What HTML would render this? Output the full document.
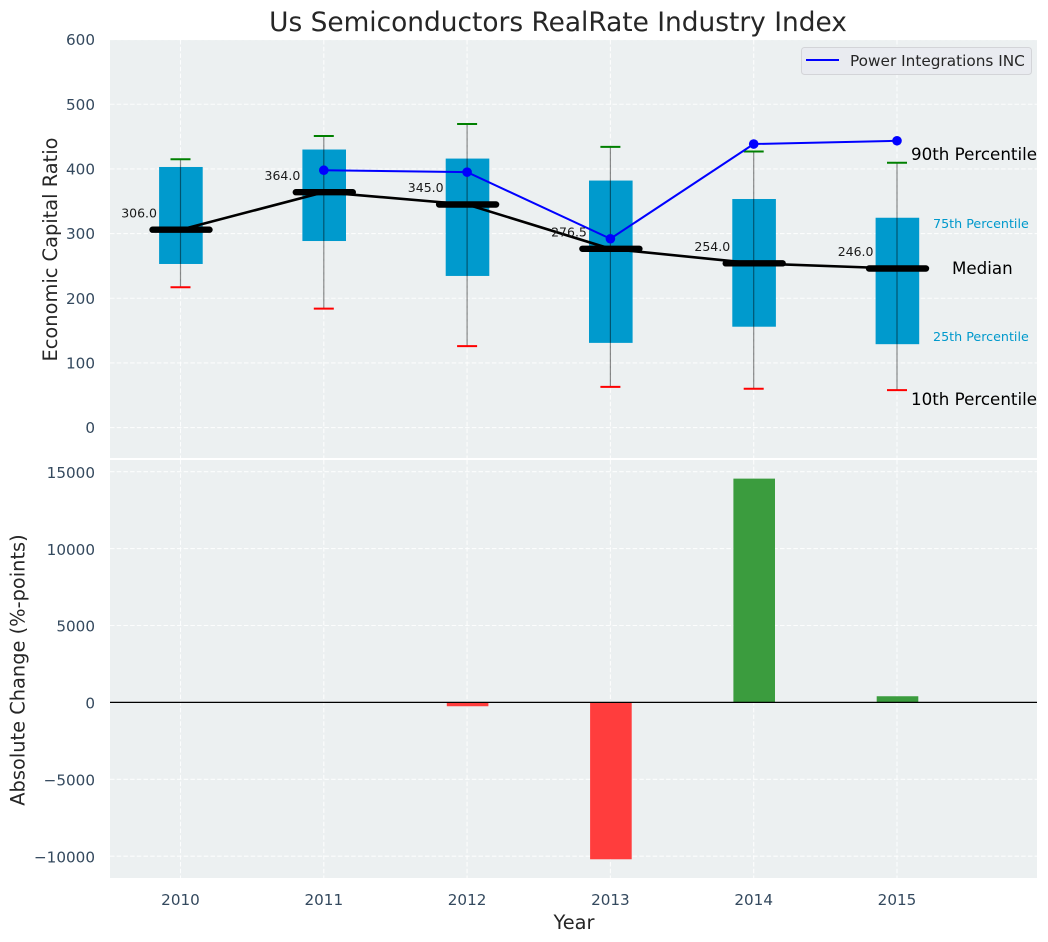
<!DOCTYPE html>
<html lang="en">
<head>
<meta charset="utf-8">
<title>Us Semiconductors RealRate Industry Index</title>
<style>
html,body{margin:0;padding:0;background:#fff;width:1048px;height:942px;overflow:hidden}
svg{display:block;font-family:"DejaVu Sans","Liberation Sans",sans-serif}
</style>
</head>
<body>
<svg id="chart" xmlns="http://www.w3.org/2000/svg" width="1048" height="942" viewBox="0 0 1048 942">
  <rect x="110" y="40" width="927" height="418" fill="#ecf0f1"/>
  <rect x="110" y="460" width="927" height="418" fill="#ecf0f1"/>
  <g id="grid"></g>
  <g id="bars"></g>
  <g id="boxes"></g>
  <g id="lines"></g>
  <g id="ticks" font-size="15.2" fill="#34495e"></g>
  <g id="medianLabels" font-size="12.5" fill="#1a1a1a"></g>

  <text x="558" y="31" text-anchor="middle" font-size="26.4" fill="#262626">Us Semiconductors RealRate Industry Index</text>
  <text transform="translate(57,249.5) rotate(-90)" text-anchor="middle" font-size="19.4" fill="#262626">Economic Capital Ratio</text>
  <text transform="translate(24.5,670) rotate(-90)" text-anchor="middle" font-size="19.4" fill="#262626">Absolute Change (%-points)</text>
  <text x="574" y="929" text-anchor="middle" font-size="19.4" fill="#262626">Year</text>

  <text x="911" y="160" font-size="16.7" fill="#000">90th Percentile</text>
  <text x="933" y="228" font-size="12.7" fill="#0099cc">75th Percentile</text>
  <text x="952" y="274" font-size="16.7" fill="#000">Median</text>
  <text x="933" y="341" font-size="12.7" fill="#0099cc">25th Percentile</text>
  <text x="911" y="405" font-size="16.7" fill="#000">10th Percentile</text>

  <g>
    <rect x="801.5" y="47.5" width="230" height="27" rx="3" fill="#e9ebf0" stroke="#d3d4d8" stroke-width="1"/>
    <line x1="806" x2="839" y1="60" y2="60" stroke="#0000ff" stroke-width="2"/>
    <text x="850" y="66" font-size="15.3" fill="#262626">Power Integrations INC</text>
  </g>
</svg>
<script>
// Chart data
const years = [2010, 2011, 2012, 2013, 2014, 2015];
const p90 = [415, 451, 469.5, 434, 427, 409.5];
const p75 = [403, 430, 416, 382, 353.5, 324.5];
const medians = [306, 364, 345, 276.5, 254, 246];
const p25 = [253, 288.5, 234.5, 131, 156, 129];
const p10 = [217, 184, 126, 63, 60, 58];
const companyYears = [2011, 2012, 2013, 2014, 2015];
const companyValues = [398, 395, 292, 438.5, 443.5];
const changeValues = [0, 0, -250, -10200, 14550, 400];
const topTicks = [0, 100, 200, 300, 400, 500, 600];
const bottomTicks = [-10000, -5000, 0, 5000, 10000, 15000];

// Axis functions
const xScale = y => 180.5 + (y - 2010) * 143.3;
const yTop = v => 427.6 - v * 0.6467;
const yBottom = v => 702.4 - v * 0.01538;

const NS = 'http://www.w3.org/2000/svg';
function mk(tag, parent, attrs) {
  const n = document.createElementNS(NS, tag);
  for (const k in attrs) n.setAttribute(k, attrs[k]);
  parent.appendChild(n);
  return n;
}
const grid = document.getElementById('grid');
const bars = document.getElementById('bars');
const boxes = document.getElementById('boxes');
const lines = document.getElementById('lines');
const ticks = document.getElementById('ticks');
const medianLabels = document.getElementById('medianLabels');
const gridStyle = {stroke: '#ffffff', 'stroke-width': 1.1, 'stroke-dasharray': '4.5 2.2', 'stroke-opacity': 0.85};

// Gridlines and y tick labels
topTicks.forEach(t => {
  const line = mk('line', grid, Object.assign({x1: 110, x2: 1037, y1: yTop(t), y2: yTop(t)}, gridStyle));
  
  
  const label = mk('text', ticks, {x: 95, y: yTop(t) + 5.6, 'text-anchor': 'end'});
  label.textContent = String(t);
  
  
});
bottomTicks.forEach(t => {
  const line = mk('line', grid, Object.assign({x1: 110, x2: 1037, y1: yBottom(t), y2: yBottom(t)}, gridStyle));
  
  
  const label = mk('text', ticks, {x: 95, y: yBottom(t) + 6.2, 'text-anchor': 'end'});
  label.textContent = String(t).replace('-', '\u2212');
  
  
});

// Vertical gridlines and x tick labels
years.forEach(y => {
  const topLine = mk('line', grid, Object.assign({x1: xScale(y), x2: xScale(y), y1: 40, y2: 458}, gridStyle));
  
  
  const bottomLine = mk('line', grid, Object.assign({x1: xScale(y), x2: xScale(y), y1: 460, y2: 878}, gridStyle));
  
  
  const label = mk('text', ticks, {x: xScale(y), y: 905, 'text-anchor': 'middle'});
  label.textContent = String(y);
  
  
});

// Absolute change bars
years.forEach((y, i) => {
  const v = changeValues[i];
  if (v === 0) return;
  const top = Math.min(yBottom(v), yBottom(0));
  const bar = mk('rect', bars, {
    x: xScale(y) + 0.5 - 20.8, y: top, width: 41.6,
    height: Math.abs(yBottom(v) - yBottom(0)),
    fill: v > 0 ? '#3b9c3e' : '#ff3d3d'
  });
  
  
});

// Zero line
const zeroLine = mk('line', bars, {x1: 110, x2: 1037, y1: yBottom(0), y2: yBottom(0), stroke: '#000', 'stroke-width': 1.2});



// Box plots
years.forEach((y, i) => {
  const x = xScale(y);
  const box = mk('rect', boxes, {
    x: x + 0.4 - 21.8, y: yTop(p75[i]), width: 43.6,
    height: yTop(p25[i]) - yTop(p75[i]), fill: '#009acd'
  });
  
  
  const whisker = mk('line', boxes, {
    x1: x, x2: x, y1: yTop(p90[i]), y2: yTop(p10[i]),
    stroke: '#000', 'stroke-opacity': 0.45, 'stroke-width': 1.2
  });
  
  
  const highCap = mk('line', boxes, {x1: x - 10, x2: x + 10, y1: yTop(p90[i]), y2: yTop(p90[i]), stroke: '#008000', 'stroke-width': 2});
  
  
  const lowCap = mk('line', boxes, {x1: x - 10, x2: x + 10, y1: yTop(p10[i]), y2: yTop(p10[i]), stroke: '#ff0000', 'stroke-width': 2});
  
  
  const label = mk('text', medianLabels, {x: x - 23.5, y: yTop(medians[i]) - 12.3, 'text-anchor': 'end'});
  label.textContent = medians[i].toFixed(1);
  
  
});

// Median connecting line
const medianPath = mk('polyline', lines, {
  points: years.map((y, i) => xScale(y) + ',' + yTop(medians[i])).join(' '),
  fill: 'none', stroke: '#000', 'stroke-width': 2.6
});



// Thick median markers
years.forEach((y, i) => {
  const x = xScale(y);
  const bar = mk('line', lines, {
    x1: x - 28, x2: x + 29, y1: yTop(medians[i]), y2: yTop(medians[i]),
    stroke: '#000', 'stroke-width': 6.4, 'stroke-linecap': 'round'
  });
  
  
});

// Company series
const companyPath = mk('polyline', lines, {
  points: companyYears.map((y, i) => xScale(y) + ',' + yTop(companyValues[i])).join(' '),
  fill: 'none', stroke: '#0000ff', 'stroke-width': 2
});


companyYears.forEach((y, i) => {
  const dot = mk('circle', lines, {cx: xScale(y), cy: yTop(companyValues[i]), r: 4.8, fill: '#0000ff'});
  
  
});
</script>
</body>
</html>
